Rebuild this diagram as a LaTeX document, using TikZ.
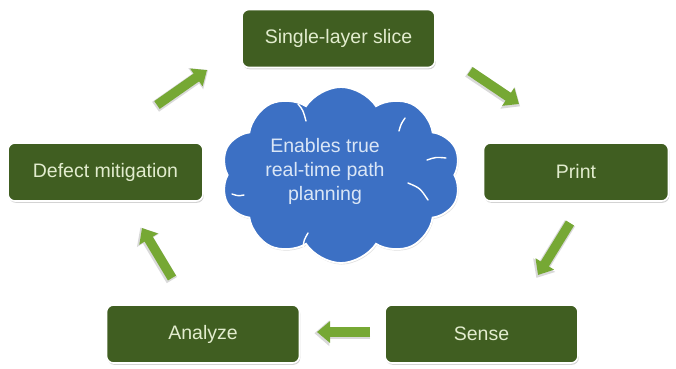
\documentclass[tikz,border=0pt]{standalone}
\usepackage{fontspec}
\setmainfont{Liberation Sans}
\usetikzlibrary{shapes.symbols,shadows,arrows.meta}
\definecolor{boxgreen}{RGB}{64,94,33}
\definecolor{boxtext}{RGB}{226,236,206}
\definecolor{arrowgreen}{RGB}{118,168,52}
\definecolor{cloudblue}{RGB}{60,112,196}
\definecolor{cloudtext}{RGB}{218,230,246}
\tikzset{
  stepbox/.style={rectangle, rounded corners=7pt, fill=boxgreen, draw=white, line width=1.6pt,
    minimum width=193pt, minimum height=58pt, text=boxtext, font=\fontsize{19.5}{23}\selectfont,
    drop shadow={shadow xshift=0.8pt, shadow yshift=-1.8pt, opacity=0.35}},
  arrowshadow/.style={line width=12pt, draw=black!15, -{Triangle[length=15pt,width=25pt]}, shorten >=-2pt, shorten <=-1pt},
  blockarrow/.style={line width=9.5pt, draw=arrowgreen, -{Triangle[length=13pt,width=21pt]}},
  cloudarc/.style={draw=white, line width=1.4pt, line cap=round},
}
\begin{document}
\begin{tikzpicture}[x=1pt,y=-1pt]
\useasboundingbox (0,0) rectangle (676,368);
% cloud
\node (cloud) [cloud, cloud puffs=10, cloud puff arc=115, aspect=1.36, fill=cloudblue, draw=white,
  line width=1.8pt, minimum width=240pt, minimum height=176pt,
  drop shadow={shadow xshift=0.8pt, shadow yshift=-1.5pt, opacity=0.25}] at (341,175) {};
\draw[cloudarc] (298,104) .. controls (303,110) .. (306,121);
\draw[cloudarc] (405,118) .. controls (401,124) .. (399,131);
\draw[cloudarc] (427,160) .. controls (436,157) .. (446,158);
\draw[cloudarc] (408,183) .. controls (420,188) .. (428,200);
\draw[cloudarc] (303,247) .. controls (304,240) .. (308,233);
\draw[cloudarc] (232,194) .. controls (238,196) .. (244,195);
\node (cloudlabel) [align=center, text=cloudtext, font=\fontsize{19.5}{24}\selectfont] at (325,171)
  {Enables true\\real-time path\\planning};
% boxes
\node (slice)  [stepbox] at (338.5,38.5) {Single-layer slice};
\node (print)  [stepbox, minimum width=185pt] at (576,172) {Print};
\node (sense)  [stepbox] at (481.5,334) {Sense};
\node (analyze)[stepbox] at (203,334) {Analyze};
\node (defect) [stepbox, minimum width=195pt] at (105.5,172) {Defect mitigation};
% arrow end points
\coordinate (a1s) at (157,105); \coordinate (a1e) at (207,70);
\coordinate (a2s) at (470,71);  \coordinate (a2e) at (519,104);
\coordinate (a3s) at (570,223); \coordinate (a3e) at (538,275);
\coordinate (a4s) at (370,332); \coordinate (a4e) at (317,332);
\coordinate (a5s) at (172,278); \coordinate (a5e) at (142,228);
\foreach \s/\e in {a1s/a1e,a2s/a2e,a3s/a3e,a4s/a4e,a5s/a5e}{
  \draw[arrowshadow, transform canvas={xshift=-0.6pt,yshift=-1.2pt}] (\s) -- (\e);
  \draw[blockarrow] (\s) -- (\e);
}
\end{tikzpicture}
\end{document}
